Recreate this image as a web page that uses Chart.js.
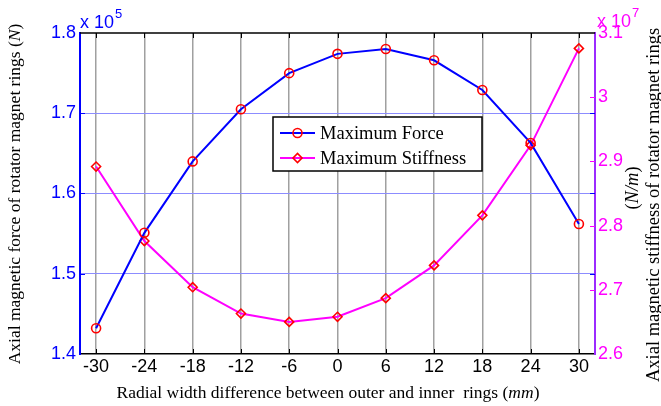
<!DOCTYPE html>
<html>
<head>
<meta charset="utf-8">
<title>Axial magnetic force and stiffness</title>
<script src="https://cdn.jsdelivr.net/npm/chart.js@4.4.1/dist/chart.umd.min.js"></script>
<style>
  html, body { margin: 0; padding: 0; background: #fff; }
  #wrap { width: 661px; height: 406px; }
</style>
</head>
<body>
<div id="wrap"><canvas id="forceChart" width="661" height="406"></canvas></div>
<script>
// Radial width difference between outer and inner rings (mm)
const widthDiff = [-30, -24, -18, -12, -6, 0, 6, 12, 18, 24, 30];
// Maximum axial force, in units of 10^5 N
const maxForce = [1.432, 1.551, 1.64, 1.705, 1.75, 1.774, 1.78, 1.766, 1.729, 1.663, 1.562];
// Maximum axial stiffness, in units of 10^7 N/m
const maxStiffness = [2.892, 2.776, 2.704, 2.663, 2.65, 2.658, 2.687, 2.738, 2.816, 2.925, 3.076];

const forceTicks = [1.4, 1.5, 1.6, 1.7, 1.8];
const stiffnessTicks = [2.6, 2.7, 2.8, 2.9, 3.0, 3.1];
const seriesLabels = ["Maximum Force", "Maximum Stiffness"];
const forceExponent = "5";
const stiffnessExponent = "7";

const SANS = "'Liberation Sans', Arial, sans-serif";
const SERIF = "'Liberation Serif', 'Times New Roman', serif";
const BLUE = "#0000ff";
const MAGENTA = "#ff00ff";
const PURPLE = "#9b2bff";

const ForceChart = {
  /**
   * Build the chart
   */
  init() {
    const ctx = document.getElementById("forceChart");
    this.chart = new Chart(ctx, {
      type: "line",
      data: { datasets: this.buildDatasets() },
      options: this.buildOptions(),
      plugins: [this.framePlugin(), this.labelPlugin(), this.legendPlugin()],
    });
  },

  /**
   * Turn the value arrays into line datasets
   */
  buildDatasets() {
    return [
      {
        label: seriesLabels[0],
        data: widthDiff.map((x, i) => ({ x, y: maxForce[i] })),
        yAxisID: "y",
        borderColor: BLUE,
        borderWidth: 2,
        pointStyle: "circle",
        pointRadius: 4.5,
        pointBorderColor: "#ff0000",
        pointBorderWidth: 1.6,
        pointBackgroundColor: "rgba(0,0,0,0)",
        tension: 0,
      },
      {
        label: seriesLabels[1],
        data: widthDiff.map((x, i) => ({ x, y: maxStiffness[i] })),
        yAxisID: "y2",
        borderColor: MAGENTA,
        borderWidth: 2,
        pointStyle: "rectRot",
        pointRadius: 4.5,
        pointBorderColor: "#ff0000",
        pointBorderWidth: 1.6,
        pointBackgroundColor: "rgba(0,0,0,0)",
        tension: 0,
      },
    ];
  },

  /**
   * Format tick values like "3" and "3.1"
   */
  formatTick(v) {
    return String(Number(v.toFixed(1)));
  },

  /**
   * Scales, layout and fixed axis sizes
   */
  buildOptions() {
    const lastForce = forceTicks.length - 1;
    return {
      responsive: false,
      devicePixelRatio: 1,
      animation: false,
      layout: { padding: { top: 33, left: 0, right: 0, bottom: 0 } },
      plugins: {
        legend: { display: false },
        tooltip: { enabled: false },
      },
      scales: {
        x: {
          type: "linear",
          min: -32,
          max: 32,
          afterBuildTicks: (s) => {
            s.ticks = widthDiff.map((v) => ({ value: v }));
          },
          afterFit: (s) => {
            s.height = 52;
          },
          grid: { color: "#a0a0a0", lineWidth: 1.5, drawTicks: false },
          border: { color: "#000", width: 1.5 },
          ticks: {
            color: "#000",
            font: { family: SANS, size: 18 },
            padding: 2,
            maxRotation: 0,
            autoSkip: false,
            callback: (v) => String(v),
          },
        },
        y: {
          position: "left",
          min: forceTicks[0],
          max: forceTicks[lastForce],
          afterBuildTicks: (s) => {
            s.ticks = forceTicks.map((v) => ({ value: v }));
          },
          afterFit: (s) => {
            s.width = 80;
          },
          grid: {
            drawTicks: false,
            lineWidth: 1,
            color: (c) =>
              c.index === 0 || c.index === lastForce ? "rgba(0,0,0,0)" : "#8c8cff",
          },
          border: { color: BLUE, width: 2 },
          ticks: {
            color: BLUE,
            font: { family: SANS, size: 18 },
            padding: 4,
            callback: (v) => this.formatTick(v),
          },
        },
        y2: {
          position: "right",
          min: stiffnessTicks[0],
          max: stiffnessTicks[stiffnessTicks.length - 1],
          afterBuildTicks: (s) => {
            s.ticks = stiffnessTicks.map((v) => ({ value: v }));
          },
          afterFit: (s) => {
            s.width = 66;
          },
          grid: { drawOnChartArea: false, drawTicks: false },
          border: { color: PURPLE, width: 2 },
          ticks: {
            color: MAGENTA,
            font: { family: SANS, size: 18 },
            padding: 3,
            callback: (v) => this.formatTick(v),
          },
        },
      },
    };
  },

  /**
   * Top box line and the short inward tick marks
   */
  framePlugin() {
    return {
      id: "frame",
      afterDatasetsDraw(chart) {
        const { ctx, chartArea: a, scales } = chart;
        const len = 5;
        ctx.save();
        ctx.lineWidth = 1.5;

        // top edge of the box
        ctx.strokeStyle = "#000";
        ctx.beginPath();
        ctx.moveTo(a.left, a.top);
        ctx.lineTo(a.right, a.top);
        ctx.stroke();

        // x ticks, bottom and top
        ctx.lineWidth = 1;
        widthDiff.forEach((v) => {
          const px = Math.round(scales.x.getPixelForValue(v)) + 0.5;
          ctx.beginPath();
          ctx.moveTo(px, a.bottom);
          ctx.lineTo(px, a.bottom - len);
          ctx.moveTo(px, a.top);
          ctx.lineTo(px, a.top + len);
          ctx.stroke();
        });

        // force ticks on both sides
        ctx.strokeStyle = BLUE;
        forceTicks.slice(1, -1).forEach((v) => {
          const py = Math.round(scales.y.getPixelForValue(v)) + 0.5;
          ctx.beginPath();
          ctx.moveTo(a.left, py);
          ctx.lineTo(a.left + len, py);
          ctx.moveTo(a.right, py);
          ctx.lineTo(a.right - len, py);
          ctx.stroke();
        });

        // stiffness ticks on the right side
        ctx.strokeStyle = MAGENTA;
        stiffnessTicks.slice(1, -1).forEach((v) => {
          const py = Math.round(scales.y2.getPixelForValue(v)) + 0.5;
          ctx.beginPath();
          ctx.moveTo(a.right, py);
          ctx.lineTo(a.right - len, py);
          ctx.stroke();
        });
        ctx.restore();
      },
    };
  },

  /**
   * Draw a run of text pieces with mixed fonts, centred on (x, y)
   */
  drawRich(ctx, parts, x, y, rotation) {
    ctx.save();
    ctx.translate(x, y);
    ctx.rotate(rotation);
    ctx.textAlign = "left";
    ctx.textBaseline = "alphabetic";
    const widths = parts.map((p) => {
      ctx.font = p.font;
      return ctx.measureText(p.text).width;
    });
    let cx = -widths.reduce((s, w) => s + w, 0) / 2;
    parts.forEach((p, i) => {
      ctx.font = p.font;
      ctx.fillStyle = p.color || "#000";
      ctx.fillText(p.text, cx, 0);
      cx += widths[i];
    });
    ctx.restore();
  },

  /**
   * "x 10^n" multipliers and the three axis titles
   */
  labelPlugin() {
    const self = this;
    const up = `17.5px ${SERIF}`;
    const it = `italic 17.5px ${SERIF}`;
    const upR = `18.5px ${SERIF}`;
    const itR = `italic 18.5px ${SERIF}`;

    const exponent = (ctx, x, y, power, color) => {
      ctx.save();
      ctx.fillStyle = color;
      ctx.textBaseline = "alphabetic";
      ctx.font = `18px ${SANS}`;
      ctx.fillText("x 10", x, y);
      const w = ctx.measureText("x 10").width;
      ctx.font = `13px ${SANS}`;
      ctx.fillText(power, x + w + 1, y - 10);
      ctx.restore();
    };

    return {
      id: "labels",
      afterDraw(chart) {
        const { ctx, chartArea: a } = chart;
        exponent(ctx, a.left, 28, forceExponent, BLUE);
        exponent(ctx, a.right + 2, 27, stiffnessExponent, MAGENTA);

        self.drawRich(
          ctx,
          [
            { text: "Radial width difference between outer and inner  rings (", font: up },
            { text: "mm", font: it },
            { text: ")", font: up },
          ],
          328, 397.5, 0,
        );
        self.drawRich(
          ctx,
          [
            { text: "Axial magnetic force of rotator magnet rings (", font: up },
            { text: "N", font: it },
            { text: ")", font: up },
          ],
          19.5, 194, -Math.PI / 2,
        );
        self.drawRich(
          ctx,
          [{ text: "Axial magnetic stiffness of rotator magnet rings", font: upR }],
          659, 205, -Math.PI / 2,
        );
        self.drawRich(
          ctx,
          [
            { text: "(", font: upR },
            { text: "N/m", font: itR },
            { text: ")", font: upR },
          ],
          638, 188, -Math.PI / 2,
        );
      },
    };
  },

  /**
   * Boxed legend inside the plot, styled from the datasets
   */
  legendPlugin() {
    const marker = (ctx, style, x, y, r) => {
      ctx.beginPath();
      if (style === "rectRot") {
        ctx.moveTo(x - r, y);
        ctx.lineTo(x, y - r);
        ctx.lineTo(x + r, y);
        ctx.lineTo(x, y + r);
        ctx.closePath();
      } else {
        ctx.arc(x, y, r, 0, Math.PI * 2);
      }
      ctx.stroke();
    };

    return {
      id: "boxLegend",
      afterDraw(chart) {
        const { ctx } = chart;
        const box = { x: 273, y: 117, w: 209, h: 54 };
        const rows = [133, 158];
        ctx.save();
        ctx.fillStyle = "#fff";
        ctx.fillRect(box.x, box.y, box.w, box.h);
        ctx.strokeStyle = "#000";
        ctx.lineWidth = 1.5;
        ctx.strokeRect(box.x, box.y, box.w, box.h);

        chart.data.datasets.forEach((ds, i) => {
          const y = rows[i];
          ctx.strokeStyle = ds.borderColor;
          ctx.lineWidth = ds.borderWidth;
          ctx.beginPath();
          ctx.moveTo(280, y);
          ctx.lineTo(315, y);
          ctx.stroke();

          ctx.strokeStyle = ds.pointBorderColor;
          ctx.lineWidth = ds.pointBorderWidth;
          marker(ctx, ds.pointStyle, 297.5, y, ds.pointRadius);

          ctx.fillStyle = "#000";
          ctx.font = `18.5px ${SERIF}`;
          ctx.textBaseline = "middle";
          ctx.fillText(ds.label, 320, y + 1);
        });
        ctx.restore();
      },
    };
  },
};

document.addEventListener("DOMContentLoaded", () => {
  ForceChart.init();
});
</script>
</body>
</html>
